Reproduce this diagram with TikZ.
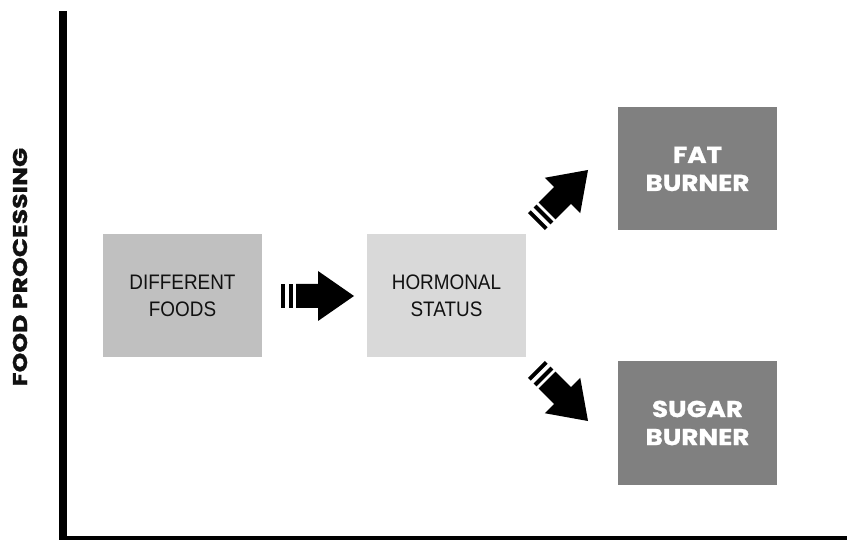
\documentclass[tikz,border=0pt]{standalone}
\usepackage{fontspec}
\setmainfont[FakeStretch=0.9]{Liberation Sans}
\newfontfamily\headfont[FakeStretch=1.14,FakeBold=1]{Poppins}
\newfontfamily\titlefont[FakeStretch=1.26,FakeBold=1]{Poppins}
\definecolor{boxa}{HTML}{C0C0C0}
\definecolor{boxb}{HTML}{D9D9D9}
\definecolor{boxdark}{HTML}{808080}
\definecolor{ink}{HTML}{111111}
\begin{document}
\begin{tikzpicture}[x=1pt,y=-1pt,
  box/.style={draw=none, minimum width=159pt, minimum height=123pt, inner sep=0pt,
    align=center, text=ink, font=\fontsize{21}{27}\selectfont},
  outbox/.style={box, fill=boxdark, text=white,
    font=\headfont\bfseries\fontsize{23}{28}\selectfont},
  axisline/.style={line width=8pt, black},
  blockarrow/.pic={
    \fill[black] (0,-12) rectangle (4,12);
    \fill[black] (8,-12) rectangle (12,12);
    \fill[black] (15,-12) -- (37,-12) -- (37,-25) -- (73,0) -- (37,25) -- (37,12) -- (15,12) -- cycle;
  }]
\useasboundingbox (0,0) rectangle (847,540);
\fill[white] (0,0) rectangle (847,540);
% axes
\coordinate (top) at (63,11);
\coordinate (corner) at (63,540);
\coordinate (right) at (847,540);
\draw[axisline] (top) -- (corner);
\draw[axisline] (59,540) -- (right);
\node[rotate=90, text=ink, font=\titlefont\bfseries\fontsize{20}{20}\selectfont] (title) at (20,267) {FOOD PROCESSING};
% boxes
\node[box, fill=boxa] (df) at (182.5,295.5) {DIFFERENT\\FOODS};
\node[box, fill=boxb] (hs) at (446.5,295.5) {HORMONAL\\STATUS};
\node[outbox] (fat) at (697.5,169) {FAT\\BURNER};
\node[outbox] (sugar) at (697.5,423) {SUGAR\\BURNER};
% arrows
\pic at (281,296) {blockarrow};
\pic[rotate=45] at (536.4,221.6) {blockarrow};
\pic[rotate=-45] at (536.4,369.4) {blockarrow};
\end{tikzpicture}
\end{document}
